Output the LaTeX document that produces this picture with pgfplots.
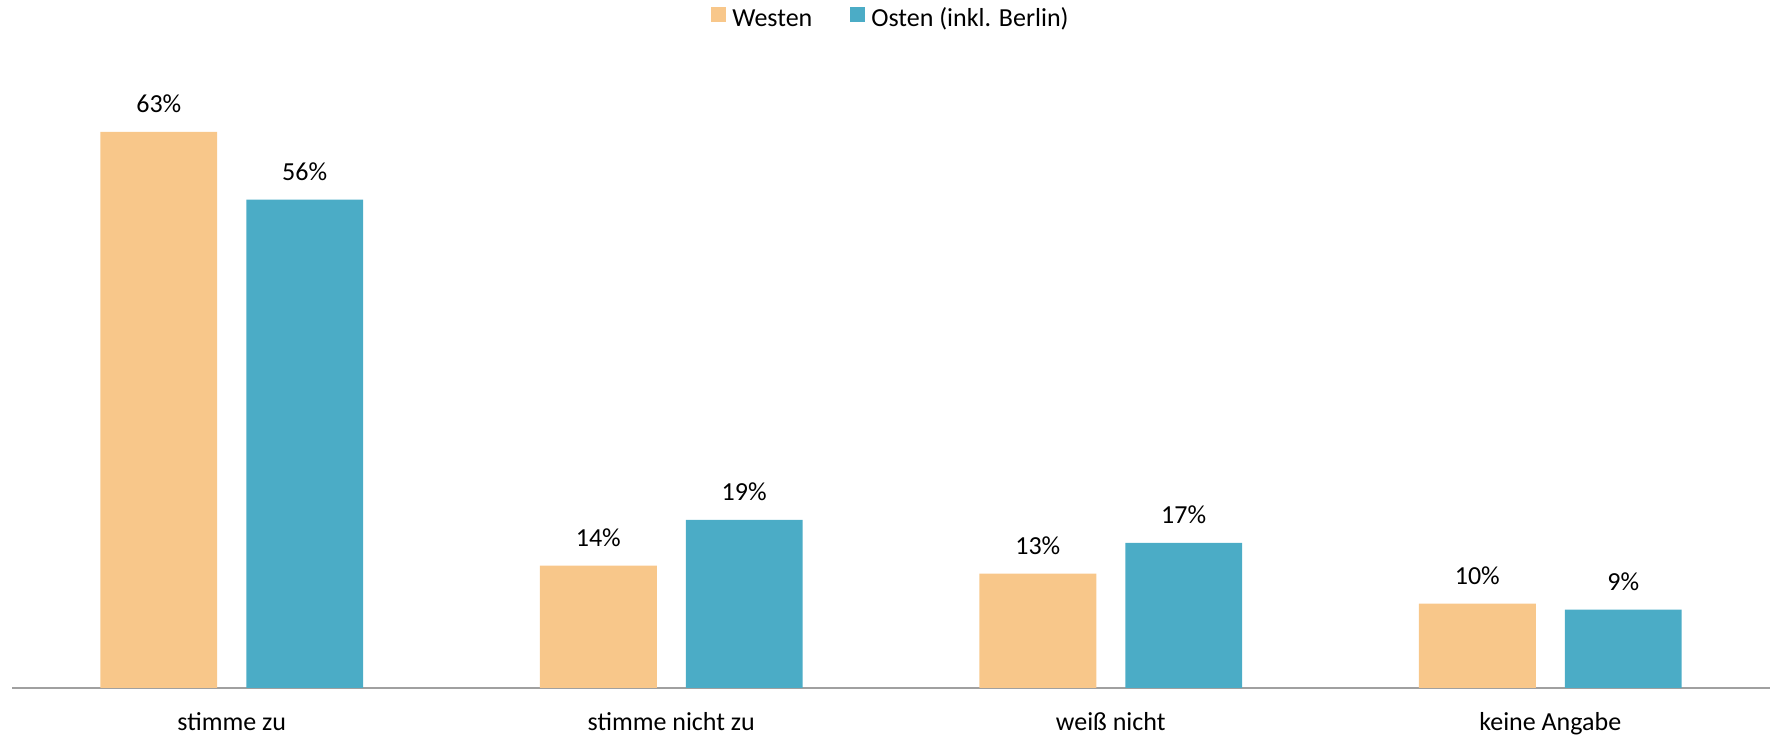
\documentclass[border=0pt]{standalone}
\usepackage{pgfplots}
\pgfplotsset{compat=1.18}
\usepackage{fontspec}
\setmainfont{Carlito}
\definecolor{westen}{RGB}{248,199,138}
\definecolor{osten}{RGB}{75,172,198}
\definecolor{axgray}{RGB}{160,160,160}
\begin{document}
\begin{tikzpicture}
\begin{axis}[
  scale only axis,
  width=879pt, height=308pt,
  xmin=-0.5, xmax=3.5, ymin=0, ymax=70,
  axis x line=bottom, axis y line=none,
  x axis line style={-, draw=axgray, line width=1pt},
  xtick={0,1,2,3},
  xticklabels={stimme zu, stimme nicht zu, weiß nicht, keine Angabe},
  major tick length=0pt,
  xtick style={draw=none},
  xticklabel style={anchor=base, yshift=-21.5pt, inner sep=0pt, font=\fontsize{13}{15}\selectfont},
  ybar, bar width=0.266,
  nodes near coords,
  point meta=explicit symbolic,
  every node near coord/.append style={anchor=base, inner sep=0pt, yshift=9.5pt, font=\fontsize{13}{15}\selectfont, text=black},
  legend columns=2,
  legend style={draw=none, at={(0.5,1.0844)}, anchor=center, font=\fontsize{13}{15}\selectfont,
    /tikz/every odd column/.append style={column sep=2pt},
    /tikz/every even column/.append style={column sep=18pt},
    nodes={inner sep=1pt, text height=9pt, text depth=3pt}},
  legend image code/.code={\fill[#1] (0pt,-0.75pt) rectangle (7.5pt,6.75pt);},
  clip=false,
]
\addplot[fill=westen, draw=none, bar shift=-0.166] coordinates {
  (0,63.2) [63\%]
  (1,13.9) [14\%]
  (2,13.0) [13\%]
  (3,9.6) [10\%]
};
\addlegendentry{Westen}
\addplot[fill=osten, draw=none, bar shift=0.166] coordinates {
  (0,55.5) [56\%]
  (1,19.1) [19\%]
  (2,16.5) [17\%]
  (3,8.9) [9\%]
};
\addlegendentry{Osten (inkl. Berlin)}
\coordinate (sw) at (rel axis cs:0,0);
\coordinate (ne) at (rel axis cs:1,1);
\end{axis}
\pgfresetboundingbox
\path[use as bounding box] ([xshift=-6pt,yshift=-23.5pt]sw) rectangle ([xshift=1.5pt,yshift=36pt]ne);
\end{tikzpicture}
\end{document}
